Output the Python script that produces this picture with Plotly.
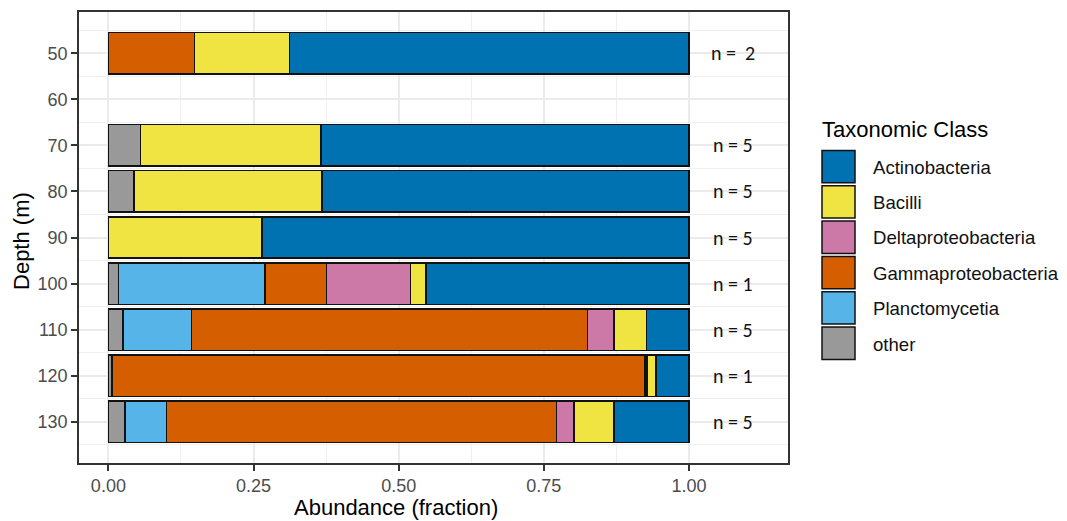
import plotly.graph_objects as go

# Depth bins (m) and per-class mean abundance fractions
depths = [50, 70, 80, 90, 100, 110, 120, 130]
n_samples = [2, 5, 5, 5, 1, 5, 1, 5]

other = [None, 0.055, 0.044, None, 0.017, 0.025, 0.006, 0.029]
planctomycetia = [None, None, None, None, 0.253, 0.118, None, 0.071]
gammaproteobacteria = [0.148, None, None, None, 0.106, 0.682, 0.918, 0.672]
deltaproteobacteria = [None, None, None, None, 0.144, 0.046, 0.004, 0.030]
bacilli = [0.164, 0.311, 0.324, 0.265, 0.027, 0.056, 0.015, 0.069]
actinobacteria = [0.688, 0.634, 0.632, 0.735, 0.453, 0.073, 0.057, 0.129]

x_ticks = [0, 0.25, 0.5, 0.75, 1.0]
x_tick_labels = ["0.00", "0.25", "0.50", "0.75", "1.00"]
y_ticks = [50, 60, 70, 80, 90, 100, 110, 120, 130]

# stacking order, left to right
series = [
    ("other", other, "#999999"),
    ("Planctomycetia", planctomycetia, "#56B4E9"),
    ("Gammaproteobacteria", gammaproteobacteria, "#D55E00"),
    ("Deltaproteobacteria", deltaproteobacteria, "#CC79A7"),
    ("Bacilli", bacilli, "#F0E442"),
    ("Actinobacteria", actinobacteria, "#0072B2"),
]

FONT = "Liberation Sans, Arial, sans-serif"

fig = go.Figure()
for name, vals, color in series:
    fig.add_trace(go.Bar(
        name=name, y=depths, x=vals, orientation="h", width=9,
        marker=dict(color=color, line=dict(color="#111111", width=1.5)),
        showlegend=False,
    ))

# sample counts to the right of each bar
for d, n in zip(depths, n_samples):
    label = f"n =\u00a0 {n}" if d == 50 else f"n = {n}"
    fig.add_annotation(x=1.075, y=d, xref="x", yref="y", text=label,
                       showarrow=False, xanchor="center", yanchor="middle",
                       font=dict(family="Carlito, Open Sans, sans-serif", size=20, color="#111111"))

# plot-area geometry in pixels, used for the hand-placed legend and titles
W, H = 1067, 521
L, R, T, B = 79, 788, 10, 463
pw, ph = R - L, B - T

def px_x(p):
    return (p - L) / pw

def px_y(p):
    return (B - p) / ph

# axis titles
fig.add_annotation(x=0.495, xref="x", y=px_y(508), yref="paper",
                   text="Abundance (fraction)", showarrow=False,
                   xanchor="center", yanchor="middle",
                   font=dict(family=FONT, size=22, color="#000000"))
fig.add_annotation(x=px_x(22), xref="paper", y=px_y(240), yref="paper",
                   text="Depth (m)", showarrow=False, textangle=-90,
                   xanchor="center", yanchor="middle",
                   font=dict(family=FONT, size=22, color="#000000"))

# legend
fig.add_annotation(x=px_x(820), xref="paper", y=px_y(128), yref="paper",
                   text="Taxonomic Class", showarrow=False,
                   xanchor="left", yanchor="middle",
                   font=dict(family=FONT, size=22, color="#000000"))
for i, (name, vals, color) in enumerate(reversed(series)):
    top = 149 + 35.5 * i
    fig.add_shape(type="rect", xref="paper", yref="paper",
                  x0=px_x(822), x1=px_x(855), y0=px_y(top + 32.5), y1=px_y(top),
                  fillcolor=color, line=dict(color="#111111", width=1.5))
    fig.add_annotation(x=px_x(871), xref="paper", y=px_y(top + 17), yref="paper",
                       text=name, showarrow=False, xanchor="left", yanchor="middle",
                       font=dict(family=FONT, size=18.6, color="#111111"))

axis_common = dict(
    showline=True, mirror=True, linecolor="#333333", linewidth=1.5,
    ticks="outside", ticklen=6, tickwidth=1.5, tickcolor="#333333",
    tickfont=dict(family=FONT, size=18, color="#4D4D4D"),
    showgrid=True, gridcolor="#EBEBEB", gridwidth=1.6, zeroline=False,
)

fig.update_layout(
    width=W, height=H, barmode="stack",
    margin=dict(l=L, r=W - R, t=T, b=H - B),
    plot_bgcolor="white", paper_bgcolor="white",
    xaxis=dict(range=[-0.0506, 1.1705], tickmode="array", tickvals=x_ticks,
               ticktext=x_tick_labels,
               minor=dict(tickmode="array", tickvals=[0.125, 0.375, 0.625, 0.875],
                          showgrid=True, gridcolor="#F0F0F0", gridwidth=1, ticks=""),
               **axis_common),
    yaxis=dict(range=[138.95, 41.05], tickmode="array", tickvals=y_ticks,
               minor=dict(tickmode="array",
                          tickvals=[45, 55, 65, 75, 85, 95, 105, 115, 125, 135],
                          showgrid=True, gridcolor="#F0F0F0", gridwidth=1, ticks=""),
               **axis_common),
    font=dict(family=FONT),
)

fig.write_html("out.html")
